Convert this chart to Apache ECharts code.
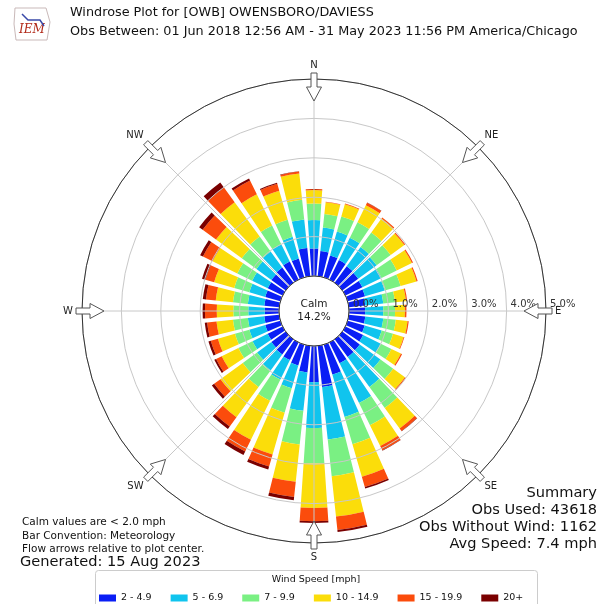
<!DOCTYPE html>
<html>
<head>
<meta charset="utf-8">
<script src="https://cdn.jsdelivr.net/npm/echarts@6/dist/echarts.min.js"></script>
<style>
  html, body { margin: 0; padding: 0; background: #fff; }
  #main { width: 608px; height: 604px; }
</style>
</head>
<body>
<div id="main"></div>
<script>
// direction bins, degrees from north (meteorology convention)
var dirs = ['0', '10', '20', '30', '40', '50', '60', '70', '80', '90', '100', '110',
    '120', '130', '140', '150', '160', '170', '180', '190', '200', '210', '220', '230',
    '240', '250', '260', '270', '280', '290', '300', '310', '320', '330', '340', '350'];

// percent of obs per speed bin, one value per direction
var spd2 = [0.70, 0.64, 0.58, 0.55, 0.52, 0.50, 0.48, 0.46, 0.42, 0.41, 0.42, 0.45,
    0.50, 0.55, 0.56, 0.59, 0.79, 1.05, 0.92, 0.68, 0.55, 0.50, 0.48, 0.45,
    0.42, 0.40, 0.38, 0.36, 0.38, 0.40, 0.42, 0.45, 0.48, 0.51, 0.50, 0.72];
var spd5 = [0.72, 0.60, 0.63, 0.63, 0.60, 0.58, 0.54, 0.52, 0.46, 0.46, 0.46, 0.45,
    0.50, 0.65, 0.94, 1.12, 1.12, 1.34, 1.16, 0.98, 0.60, 0.55, 0.50, 0.45,
    0.43, 0.42, 0.42, 0.42, 0.42, 0.42, 0.44, 0.47, 0.50, 0.49, 0.57, 0.73];
var spd7 = [0.42, 0.35, 0.40, 0.44, 0.46, 0.44, 0.43, 0.42, 0.30, 0.30, 0.32, 0.30,
    0.30, 0.40, 0.66, 0.63, 0.72, 0.94, 0.90, 0.86, 0.65, 0.60, 0.52, 0.45,
    0.40, 0.38, 0.38, 0.38, 0.38, 0.40, 0.42, 0.46, 0.47, 0.53, 0.45, 0.50];
var spd10 = [0.34, 0.30, 0.32, 0.48, 0.44, 0.43, 0.43, 0.42, 0.28, 0.25, 0.30, 0.28,
    0.27, 0.37, 0.64, 0.59, 0.86, 1.03, 1.13, 0.95, 1.10, 1.10, 0.95, 0.70,
    0.47, 0.45, 0.42, 0.42, 0.44, 0.53, 0.70, 0.81, 1.08, 0.88, 0.77, 0.67];
var spd15 = [0.03, 0.01, 0.02, 0.07, 0.03, 0.03, 0.03, 0.03, 0.03, 0.04, 0.03, 0.02,
    0.03, 0.03, 0.08, 0.12, 0.27, 0.34, 0.34, 0.39, 0.32, 0.33, 0.29, 0.20,
    0.16, 0.19, 0.24, 0.30, 0.25, 0.23, 0.27, 0.42, 0.46, 0.39, 0.18, 0.05];
var spd20 = [0.00, 0.00, 0.00, 0.01, 0.00, 0.00, 0.00, 0.00, 0.00, 0.00, 0.00, 0.00,
    0.00, 0.00, 0.01, 0.01, 0.04, 0.05, 0.04, 0.08, 0.08, 0.10, 0.08, 0.07,
    0.05, 0.06, 0.06, 0.06, 0.08, 0.09, 0.08, 0.11, 0.16, 0.06, 0.03, 0.01];

var binNames = ['2 - 4.9', '5 - 6.9', '7 - 9.9', '10 - 14.9', '15 - 19.9', '20+'];
var binColors = ['#0a1ef5', '#10c4ee', '#7af083', '#fbdd0a', '#fb4c0c', '#7a0000'];
var ringTicks = [0, 1, 2, 3, 4, 5];
var compass = {0: 'E', 45: 'SE', 90: 'S', 135: 'SW', 180: 'W', 225: 'NW', 270: 'N', 315: 'NE'};

var cx = 314, cy = 311, rIn = 35, rOut = 232;
var font = 'DejaVu Sans';

var myChart = echarts.init(document.getElementById('main'));

var series = [spd2, spd5, spd7, spd10, spd15, spd20].map(function(vals, i) {
    return {
        name: binNames[i],
        type: 'bar',
        coordinateSystem: 'polar',
        polarIndex: 0,
        stack: 'wind',
        barCategoryGap: '22%',
        itemStyle: { color: binColors[i] },
        data: vals,
        z: 2
    };
});

// hollow flow arrows on the outer ring
var graphics = [];
[0, 45, 90, 135, 180, 225, 270, 315].forEach(function(a) {
    var t = a * Math.PI / 180;
    var pts = [[238, -3], [224, -3], [224, -7.5], [210, 0], [224, 7.5], [224, 3], [238, 3]].map(function(p) {
        return [cx + p[0] * Math.sin(t) + p[1] * Math.cos(t), cy - p[0] * Math.cos(t) + p[1] * Math.sin(t)];
    });
    graphics.push({
        type: 'polygon', shape: { points: pts }, z: 20,
        style: { fill: '#fff', stroke: '#555', lineWidth: 1 }
    });
});

graphics = graphics.concat([
    { type: 'text', left: 19, top: 24, z: 20,
        style: { text: 'IEM', fill: '#b22a1a', font: 'italic 12px "DejaVu Serif"' } },
    { type: 'polyline', z: 20, shape: { points: [[15, 8], [46, 8], [50, 22], [47, 40], [16, 40], [14, 24], [15, 8]] },
        style: { stroke: '#c9b9b9', fill: null, lineWidth: 1 } },
    { type: 'polyline', z: 20, shape: { points: [[22, 14], [28, 20], [40, 20], [44, 26]] },
        style: { stroke: '#3a49a8', fill: null, lineWidth: 1.5 } },
    { type: 'text', left: 70, top: 6, z: 20,
        style: { text: 'Windrose Plot for [OWB] OWENSBORO/DAVIESS', fill: '#111', font: '12.8px "' + font + '"' } },
    { type: 'text', left: 70, top: 25, z: 20,
        style: { text: 'Obs Between: 01 Jun 2018 12:56 AM - 31 May 2023 11:56 PM America/Chicago', fill: '#111', font: '12.8px "' + font + '"' } },
    { type: 'text', x: cx, y: cy, z: 20,
        style: { text: 'Calm\n14.2%', fill: '#222', font: '10.5px "' + font + '"', align: 'center', verticalAlign: 'middle', lineHeight: 13 } },
    { type: 'text', left: 22, top: 516, z: 20,
        style: { text: 'Calm values are < 2.0 mph\nBar Convention: Meteorology\nFlow arrows relative to plot center.',
            fill: '#111', font: '10.5px "' + font + '"', lineHeight: 13.5 } },
    { type: 'text', left: 20, top: 555, z: 20,
        style: { text: 'Generated: 15 Aug 2023', fill: '#111', font: '14.6px "' + font + '"' } },
    { type: 'text', x: 597, y: 485, z: 20,
        style: { text: 'Summary\nObs Used: 43618\nObs Without Wind: 1162\nAvg Speed: 7.4 mph',
            fill: '#111', font: '14.6px "' + font + '"', align: 'right', verticalAlign: 'top', lineHeight: 17 } },
    { type: 'rect', z: 1, shape: { x: 95.5, y: 570.5, width: 442, height: 40, r: 3 },
        style: { fill: '#fff', stroke: '#ccc', lineWidth: 1 } },
    { type: 'text', x: 316, y: 580, z: 20,
        style: { text: 'Wind Speed [mph]', fill: '#111', font: '9.5px "' + font + '"', align: 'center', verticalAlign: 'middle' } }
]);

var option = {
    backgroundColor: '#fff',
    animation: false,
    polar: [
        { center: [cx, cy], radius: [rIn, rOut] },
        { center: [cx, cy], radius: [rIn, rOut] }
    ],
    angleAxis: [{
        polarIndex: 0,
        type: 'category',
        data: dirs,
        startAngle: 95,
        clockwise: true,
        show: false
    }, {
        polarIndex: 1,
        type: 'value',
        min: 0,
        max: 360,
        interval: 45,
        startAngle: 0,
        clockwise: true,
        z: 10,
        axisLine: { lineStyle: { color: '#333', width: 1 } },
        axisTick: { show: false },
        axisLabel: {
            margin: 9,
            color: '#222',
            fontFamily: font,
            fontSize: 10,
            formatter: function(v) { return compass[v] || ''; }
        },
        splitLine: { lineStyle: { color: '#c8c8c8', width: 1 } }
    }],
    radiusAxis: [{
        polarIndex: 0,
        type: 'value',
        min: 0,
        max: 5,
        show: false
    }, {
        polarIndex: 1,
        type: 'value',
        min: ringTicks[0],
        max: ringTicks[ringTicks.length - 1],
        interval: 1,
        z: 10,
        axisLine: { show: false },
        axisTick: { show: false },
        axisLabel: {
            margin: 2,
            align: 'left',
            padding: [0, 0, 0, 4],
            color: '#333',
            fontFamily: font,
            fontSize: 10,
            formatter: function(v) { return v.toFixed(1) + '%'; }
        },
        splitLine: { lineStyle: { color: '#c8c8c8', width: 1 } }
    }],
    legend: {
        data: binNames,
        left: 94,
        top: 588,
        icon: 'rect',
        itemWidth: 17,
        itemHeight: 7,
        itemGap: 19,
        selectedMode: false,
        textStyle: { fontFamily: font, fontSize: 9.5, color: '#111' }
    },
    graphic: graphics,
    series: series
};
myChart.setOption(option);
</script>
</body>
</html>
